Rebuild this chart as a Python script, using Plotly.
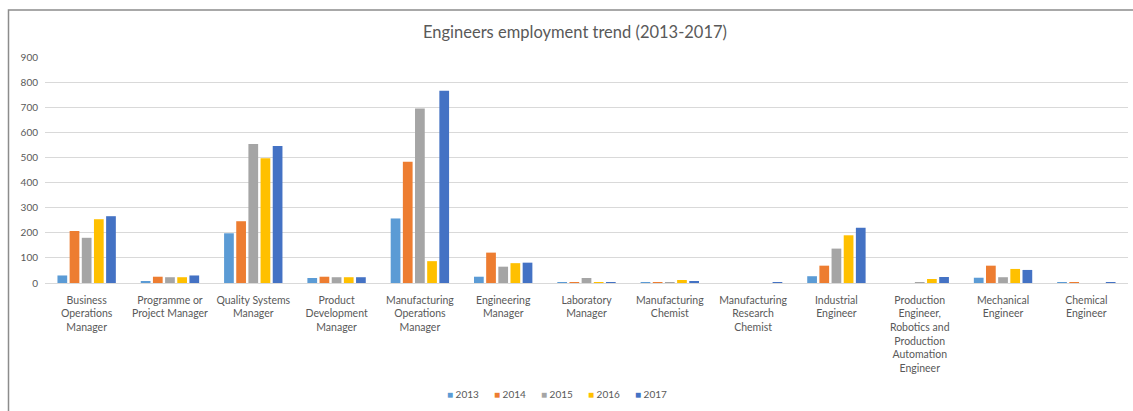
import plotly.graph_objects as go

# Job categories shown along the x axis (line breaks as in the chart labels)
categories = [
    "Business<br>Operations<br>Manager",
    "Programme or<br>Project Manager",
    "Quality Systems<br>Manager",
    "Product<br>Development<br>Manager",
    "Manufacturing<br>Operations<br>Manager",
    "Engineering<br>Manager",
    "Laboratory<br>Manager",
    "Manufacturing<br>Chemist",
    "Manufacturing<br>Research<br>Chemist",
    "Industrial<br>Engineer",
    "Production<br>Engineer,<br>Robotics and<br>Production<br>Automation<br>Engineer",
    "Mechanical<br>Engineer",
    "Chemical<br>Engineer",
]

years = ["2013", "2014", "2015", "2016", "2017"]

# Number of engineers employed per category, one list per year
values_2013 = [30, 5, 198, 20, 257, 25, 3, 3, 0, 27, 0, 21, 3]
values_2014 = [207, 25, 246, 25, 483, 121, 3, 3, 0, 69, 0, 69, 3]
values_2015 = [180, 23, 554, 23, 695, 65, 20, 3, 0, 137, 3, 23, 0]
values_2016 = [254, 23, 497, 23, 87, 79, 2, 12, 0, 190, 16, 56, 0]
values_2017 = [266, 30, 546, 23, 766, 81, 4, 5, 4, 220, 24, 52, 4]

series = [values_2013, values_2014, values_2015, values_2016, values_2017]
colors = ["#5B9BD5", "#ED7D31", "#A5A5A5", "#FFC000", "#4472C4"]

y_ticks = [0, 100, 200, 300, 400, 500, 600, 700, 800, 900]

font_family = "Lato, Open Sans, sans-serif"
text_grey = "#595959"

# plot-area geometry in pixels, used to place the compact legend row
PLOT_L, PLOT_W = 45, 1083
PLOT_T, PLOT_H = 57, 226

fig = go.Figure()
for year, vals, col in zip(years, series, colors):
    fig.add_trace(go.Bar(
        name=year,
        x=categories,
        y=vals,
        marker=dict(color=col, line=dict(width=0)),
        showlegend=False,
    ))

fig.update_layout(
    width=1133,
    height=411,
    margin=dict(l=PLOT_L, r=1133 - PLOT_L - PLOT_W, t=PLOT_T, b=411 - PLOT_T - PLOT_H),
    paper_bgcolor="white",
    plot_bgcolor="white",
    barmode="group",
    bargap=0.27,
    bargroupgap=0.2,
    font=dict(family=font_family, color=text_grey, size=10),
    title=dict(
        text="Engineers employment trend (2013-2017)",
        x=0.5075,
        xanchor="center",
        y=0.922,
        yanchor="middle",
        font=dict(family=font_family, size=16.5, color=text_grey),
    ),
)

# Legend row: a coloured square followed by the year, centred under the chart
legend_x0 = 445
legend_step = 47
legend_y = 394
for i, (year, col) in enumerate(zip(years, colors)):
    px = legend_x0 + i * legend_step
    fig.add_annotation(
        xref="paper", yref="paper",
        x=(px - PLOT_L) / PLOT_W,
        y=(PLOT_T + PLOT_H - legend_y) / PLOT_H,
        xanchor="left", yanchor="middle",
        showarrow=False,
        text=f"<span style='color:{col}'>■</span> {year}",
        font=dict(family=font_family, size=10, color=text_grey),
    )

fig.update_xaxes(
    showgrid=False,
    showline=True,
    linecolor="#D9D9D9",
    linewidth=1,
    ticks="",
    tickangle=0,
    ticklabelstandoff=7,
    tickfont=dict(family=font_family, size=10.5, color=text_grey),
    fixedrange=True,
)

fig.update_yaxes(
    range=[0, 900],
    tickvals=y_ticks,
    showgrid=True,
    gridcolor="#D9D9D9",
    gridwidth=1,
    zeroline=False,
    showline=False,
    ticks="",
    ticklabelstandoff=6,
    tickfont=dict(family=font_family, size=10, color=text_grey),
    fixedrange=True,
)

# Chart-area frame
fig.add_shape(
    type="rect",
    xref="paper", yref="paper",
    x0=(8.5 - PLOT_L) / PLOT_W, x1=1.03,
    y0=-0.6, y1=(PLOT_T + PLOT_H - 10) / PLOT_H,
    line=dict(color="#8C8C8C", width=1.5),
    fillcolor="rgba(0,0,0,0)",
    layer="below",
)

fig.write_html("out.html")
